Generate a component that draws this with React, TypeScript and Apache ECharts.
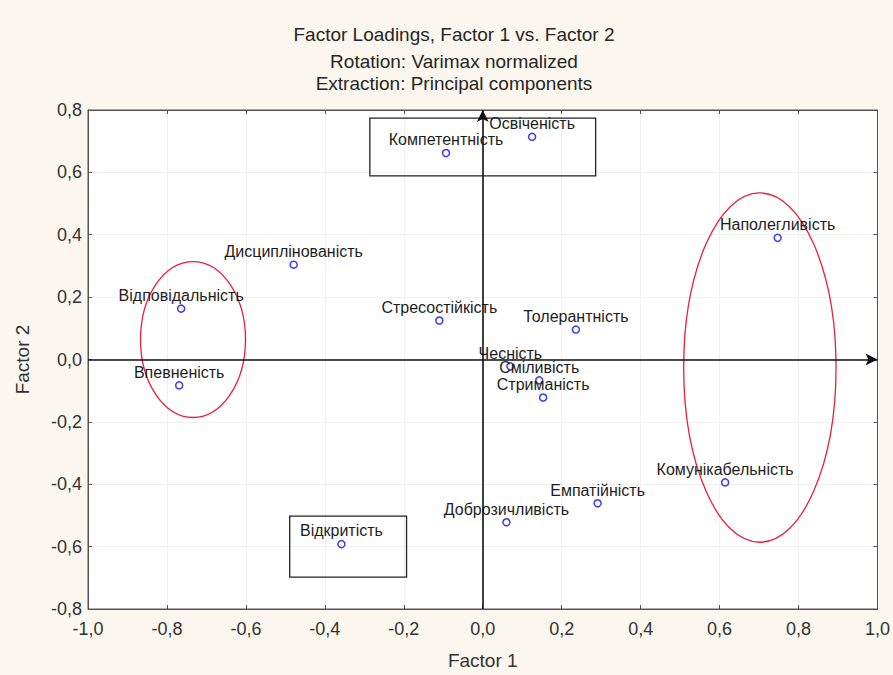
import React, { useEffect, useRef } from "react";
import * as echarts from "echarts";

const names = [
  "Освіченість",
  "Компетентність",
  "Наполегливість",
  "Дисциплінованість",
  "Відповідальність",
  "Стресостійкість",
  "Толерантність",
  "Чесність",
  "Сміливість",
  "Стриманість",
  "Впевненість",
  "Комунікабельність",
  "Емпатійність",
  "Доброзичливість",
  "Відкритість",
];
const factor1 = [0.125, -0.093, 0.747, -0.479, -0.764, -0.11, 0.236, 0.07, 0.143, 0.153, -0.769, 0.614, 0.291, 0.06, -0.358];
const factor2 = [0.714, 0.662, 0.39, 0.304, 0.163, 0.125, 0.096, -0.022, -0.067, -0.122, -0.083, -0.394, -0.461, -0.522, -0.592];

// ellipses: [centerX, centerY, radiusX, radiusY] in data units
const ellipses = [
  [-0.734, 0.064, 0.133, 0.25],
  [0.702, -0.026, 0.193, 0.56],
];
// rectangles: [x1, y1, x2, y2] in data units
const boxes = [
  [-0.286, 0.774, 0.286, 0.589],
  [-0.489, -0.502, -0.193, -0.698],
];

const titleLines = [
  "Factor Loadings, Factor 1 vs. Factor 2",
  "Rotation: Varimax normalized",
  "Extraction: Principal components",
];

const FONT = "Arial, 'Liberation Sans', sans-serif";
const fmt = (v: number) => v.toFixed(1).replace(".", ",");

export default function App() {
  const ref = useRef<HTMLDivElement>(null);
  useEffect(() => {
    document.body.style.margin = "0";
    const chart = echarts.init(ref.current!, null, { renderer: "svg" });
    const axisCommon = {
      type: "value",
      min: -1,
      max: 1,
      interval: 0.2,
    };
    const option: any = {
      animation: false,
      backgroundColor: "#fbf7ee",
      textStyle: { fontFamily: FONT },
      graphic: titleLines.map((t, i) => ({
        type: "text",
        x: 454,
        y: [34, 61, 83][i],
        style: {
          text: t,
          fontSize: 19,
          fontFamily: FONT,
          fill: "#262626",
          align: "center",
          verticalAlign: "middle",
        },
      })),
      grid: {
        left: 88,
        right: 11,
        top: 110,
        bottom: 65,
        show: true,
        backgroundColor: "#ffffff",
        borderColor: "#555",
        borderWidth: 1,
      },
      xAxis: [
        {
          ...axisCommon,
          name: "Factor 1",
          nameLocation: "middle",
          nameGap: 42,
          nameTextStyle: { fontSize: 19, color: "#333", fontFamily: FONT },
          axisLine: { show: true, onZero: false, lineStyle: { color: "#555" } },
          axisTick: { show: true, inside: true, length: 4, lineStyle: { color: "#555" } },
          axisLabel: { formatter: fmt, fontSize: 18, color: "#333", margin: 11, fontFamily: FONT },
          splitLine: { show: true, lineStyle: { color: "#f0f0f0", width: 1 } },
        },
        {
          ...axisCommon,
          position: "top",
          axisLine: { show: true, onZero: false, lineStyle: { color: "#555" } },
          axisTick: { show: true, inside: true, length: 4, lineStyle: { color: "#555" } },
          axisLabel: { show: false },
          splitLine: { show: false },
        },
      ],
      yAxis: [
        {
          type: "value",
          min: -0.8,
          max: 0.8,
          interval: 0.2,
          name: "Factor 2",
          nameLocation: "middle",
          nameGap: 56,
          nameTextStyle: { fontSize: 19, color: "#333", fontFamily: FONT },
          axisLine: { show: true, onZero: false, lineStyle: { color: "#555" } },
          axisTick: { show: true, inside: true, length: 4, lineStyle: { color: "#555" } },
          axisLabel: { formatter: fmt, fontSize: 18, color: "#333", margin: 6, fontFamily: FONT },
          splitLine: { show: true, lineStyle: { color: "#f0f0f0", width: 1 } },
        },
        {
          type: "value",
          min: -0.8,
          max: 0.8,
          interval: 0.2,
          position: "right",
          axisLine: { show: true, onZero: false, lineStyle: { color: "#555" } },
          axisTick: { show: true, inside: true, length: 4, lineStyle: { color: "#555" } },
          axisLabel: { show: false },
          splitLine: { show: false },
        },
      ],
      series: [
        {
          type: "custom",
          xAxisIndex: 0,
          yAxisIndex: 0,
          silent: true,
          z: 1,
          encode: { x: 0, y: 1 },
          data: ellipses,
          renderItem: (params: any, api: any) => {
            const c = api.coord([api.value(0), api.value(1)]);
            const s = api.size([api.value(2), api.value(3)]);
            return {
              type: "ellipse",
              shape: { cx: c[0], cy: c[1], rx: s[0], ry: s[1] },
              style: { fill: "none", stroke: "#e8203c", lineWidth: 1.3 },
            };
          },
        },
        {
          type: "custom",
          xAxisIndex: 0,
          yAxisIndex: 0,
          silent: true,
          z: 1,
          encode: { x: [0, 2], y: [1, 3] },
          data: boxes,
          renderItem: (params: any, api: any) => {
            const a = api.coord([api.value(0), api.value(1)]);
            const b = api.coord([api.value(2), api.value(3)]);
            return {
              type: "rect",
              shape: {
                x: Math.min(a[0], b[0]),
                y: Math.min(a[1], b[1]),
                width: Math.abs(b[0] - a[0]),
                height: Math.abs(b[1] - a[1]),
              },
              style: { fill: "none", stroke: "#222", lineWidth: 1.3 },
            };
          },
        },
        {
          type: "scatter",
          xAxisIndex: 0,
          yAxisIndex: 0,
          z: 3,
          symbol: "circle",
          symbolSize: 7,
          itemStyle: { color: "#ffffff", borderColor: "#3a3af0", borderWidth: 1.5, opacity: 1 },
          label: {
            show: true,
            position: "top",
            distance: 1,
            formatter: (p: any) => p.data[2],
            fontSize: 16,
            color: "#1e1e1e",
            fontFamily: FONT,
          },
          data: names.map((n, i) => [factor1[i], factor2[i], n]),
          markLine: {
            silent: true,
            symbol: ["none", "arrow"],
            symbolSize: [9, 12],
            label: { show: false },
            lineStyle: { color: "#111", width: 1.6, type: "solid" },
            data: [{ xAxis: 0 }, { yAxis: 0 }],
          },
        },
      ],
    };
    chart.setOption(option);
    return () => chart.dispose();
  }, []);
  return (
    <div
      ref={ref}
      style={{ position: "absolute", left: 0, top: 0, width: 893, height: 675 }}
    />
  );
}
